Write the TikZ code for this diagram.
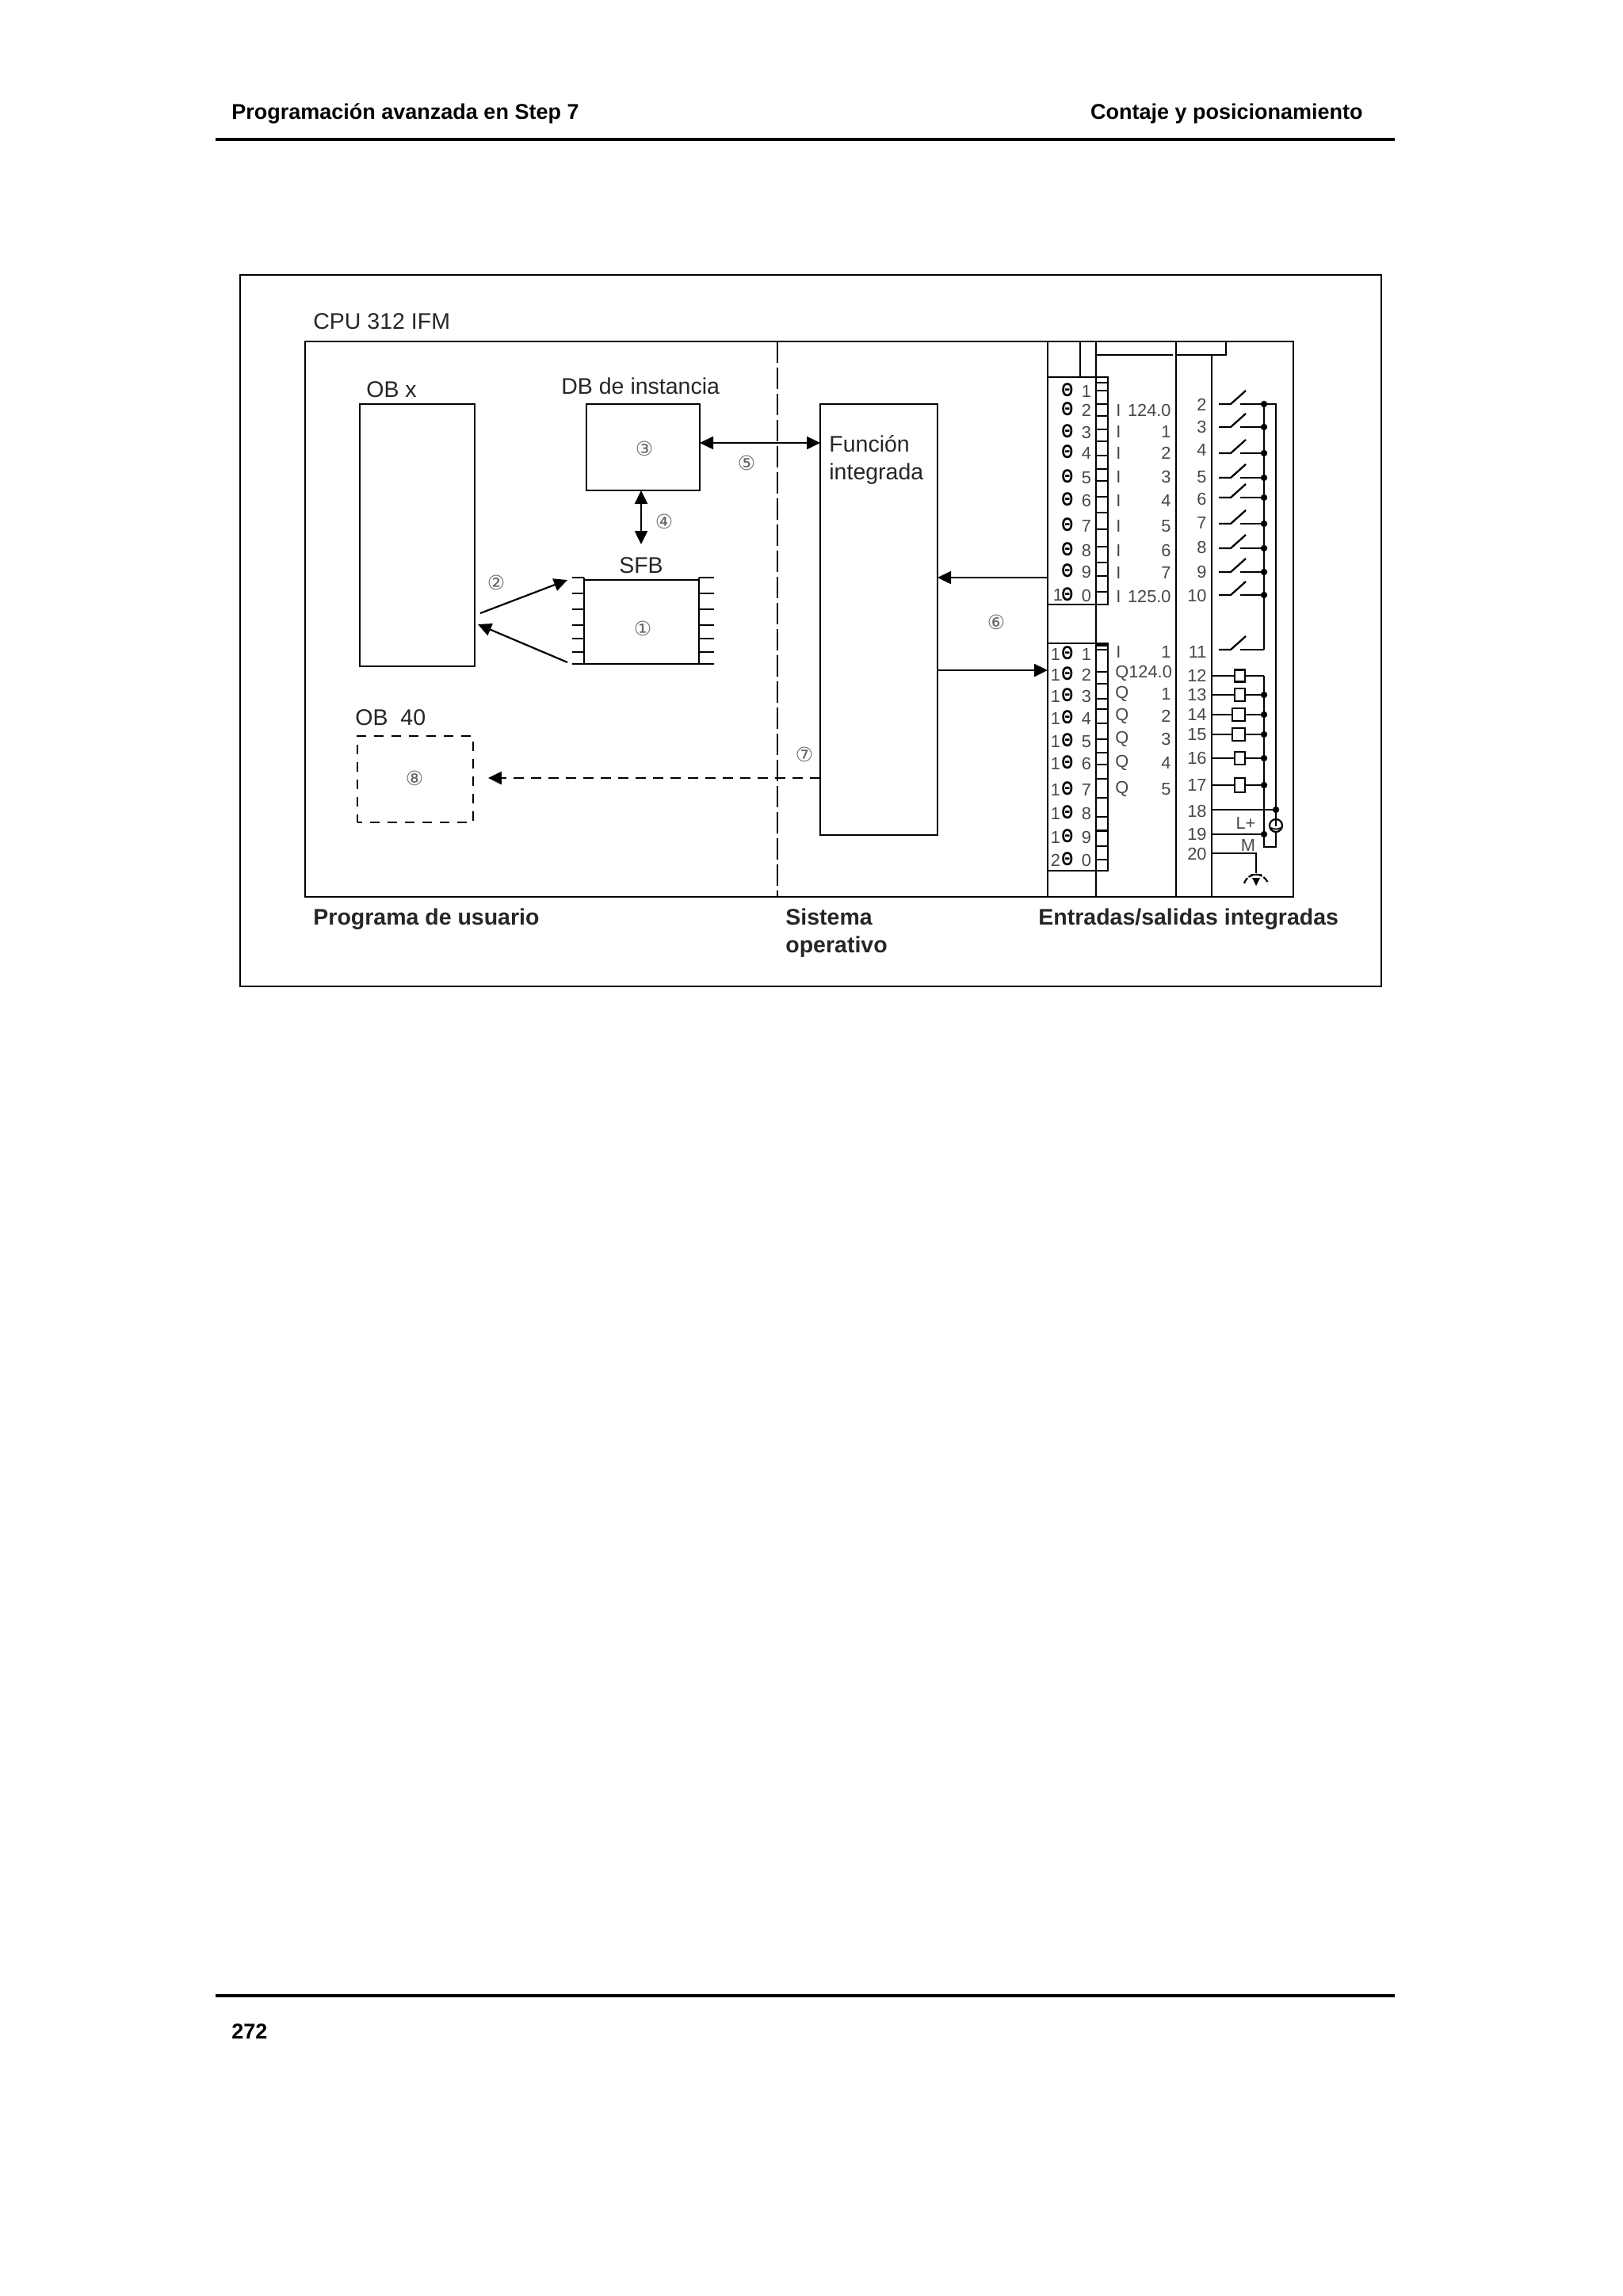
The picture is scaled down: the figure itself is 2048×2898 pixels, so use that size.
\documentclass[tikz,border=0pt]{standalone}
\usepackage{graphicx}
\usepackage{fontspec}
\setmainfont{Liberation Sans}
\newfontfamily\djv{DejaVu Sans}
\usetikzlibrary{arrows.meta,calc}
\newcommand{\fs}[1]{\fontsize{#1}{#1}\selectfont}
% box given by pixel corners
\newcommand{\bxnode}[6][]{%
  \pgfmathsetmacro{\bw}{(#5-#3)*0.5}\pgfmathsetmacro{\bh}{(#6-#4)*0.5}%
  \node[frameb,#1,minimum width=\bw pt,minimum height=\bh pt] (#2) at ({(#3+#5)/2},{(#4+#6)/2}) {};}
\tikzset{
  frameb/.style={draw=black,line width=1.25pt,fill=white,inner sep=0pt,outer sep=0pt},
  wire/.style={line width=1.15pt,draw=black},
  rule/.style={line width=2.1pt,draw=black},
  headtxt/.style={font=\bfseries\fs{13.5},anchor=base west,inner sep=0pt,text=black},
  lab/.style={font=\fs{14.25},anchor=base west,inner sep=0pt,text=black!85},
  blab/.style={font=\bfseries\fs{14.25},anchor=base west,inner sep=0pt,text=black!85},
  term/.style={font=\fs{10.9},inner sep=0pt,text=black!72},
  screw/.style={font=\bfseries\fs{12},inner sep=0pt,text=black},
  termr/.style={font=\fs{10.9},inner sep=0pt,text=black!72,anchor=east},
  terml/.style={font=\fs{10.9},inner sep=0pt,text=black!72,anchor=west},
  num/.style={font=\djv\fs{12.5},inner sep=0pt,text=black!60},
  both/.style={line width=1.25pt,{Triangle[length=8.5pt,width=8pt]}-{Triangle[length=8.5pt,width=8pt]}},
  single/.style={line width=1.25pt,-{Triangle[length=8.5pt,width=8pt]}},
  dotj/.style={circle,fill=black,inner sep=0pt,minimum size=4.2pt},
  shortdash/.style={dash pattern=on 6.5pt off 4.5pt},
  longdash/.style={dash pattern=on 13.5pt off 3pt},
}
\begin{document}
\begin{tikzpicture}[x=0.5pt,y=-0.5pt]
\useasboundingbox (0,0) rectangle (2048,2898);
\fill[white] (0,0) rectangle (2048,2898);
% header / footer
\node[headtxt] (hl) at (292,150) {Programación avanzada en Step 7};
\node[headtxt,anchor=base east] (hr) at (1720,150) {Contaje y posicionamiento};
\coordinate (r1a) at (272,176); \coordinate (r1b) at (1760,176);
\draw[rule] (r1a) -- (r1b);
\coordinate (r2a) at (272,2519); \coordinate (r2b) at (1760,2519);
\draw[rule] (r2a) -- (r2b);
\node[headtxt] (pg) at (292,2573) {272};
% frames
\bxnode{outer}{303}{347}{1743}{1245}
\bxnode{cpu}{385}{431}{1632}{1132}
\node[lab] (tcpu) at (395,415) {CPU 312 IFM};
% vertical separators
\coordinate (s1) at (981,431); \coordinate (s2) at (981,1132);
\draw[line width=1.1pt,longdash] (s1) -- (s2);
\coordinate (v1a) at (1322,431); \coordinate (v1b) at (1322,1132); \draw[wire,line width=1.25pt] (v1a) -- (v1b);
\coordinate (v2a) at (1363,431); \coordinate (v2b) at (1363,476); \draw[wire,line width=1.25pt] (v2a) -- (v2b);
\coordinate (v3a) at (1383,431); \coordinate (v3b) at (1383,1132); \draw[wire,line width=1.25pt] (v3a) -- (v3b);
\coordinate (v4a) at (1484,431); \coordinate (v4b) at (1484,1132); \draw[wire,line width=1.25pt] (v4a) -- (v4b);
\coordinate (v5a) at (1529,448); \coordinate (v5b) at (1529,1132); \draw[wire,line width=1.25pt] (v5a) -- (v5b);
\coordinate (h1a) at (1383,448); \coordinate (h1b) at (1480,448); \draw[wire,line width=1.25pt] (h1a) -- (h1b);
\coordinate (h2a) at (1484,448); \coordinate (h2b) at (1547,448); \coordinate (h2c) at (1547,431); \draw[wire,line width=1.25pt] (h2a) -- (h2b) -- (h2c);
% main boxes
\bxnode{obx}{454}{510}{599}{841}
\node[lab] (tobx) at (462,501) {OB x};
\bxnode{db}{740}{510}{883}{619}
\node[lab] (tdb) at (708,497) {DB de instancia};
\bxnode{sfb}{737}{732}{882}{838}
\node[lab,anchor=base] (tsfb) at (809,723) {SFB};
\bxnode{fun}{1035}{510}{1183}{1054}
\node[lab] (tf1) at (1046,570) {Función};
\node[lab] (tf2) at (1046,605) {integrada};
\bxnode[dash pattern=on 6pt off 5pt,dash phase=3pt,line width=1.35pt]{ob40}{451}{929}{597}{1038}
\node[lab] (tob40) at (448,915) {OB\ \ 40};
% SFB pins
\foreach \y [count=\i] in {729,749,769,789,806,823,838}{
  \coordinate (pl\i) at (722,\y); \coordinate (pr\i) at (901,\y);
  \draw[wire] (pl\i) -- (pl\i -| sfb.west);
  \draw[wire] (pr\i) -- (pr\i -| sfb.east);
}
\draw[wire] (sfb.north west) -- (sfb.west |- pl1);
\draw[wire] (sfb.north east) -- (sfb.east |- pr1);
% terminal blocks
\bxnode[fill=none]{tb1}{1322}{476}{1398}{763}
\bxnode[fill=none]{tb2}{1322}{812}{1398}{1099}
% connectors
\coordinate (c5) at ([yshift=2.75pt]db.east);
\draw[both] (c5) -- (c5 -| fun.west);
\coordinate (c4) at (809,687);
\draw[both] (db.south -| c4) -- (c4);
\coordinate (a2a) at (606,774); \coordinate (a2b) at (716,732);
\draw[single,line width=1.1pt] (a2a) -- (a2b);
\coordinate (a2c) at (716,836); \coordinate (a2d) at (603,788);
\draw[single,line width=1.1pt] (a2c) -- (a2d);
\coordinate (c7) at (1035,982); \coordinate (c7e) at (616,982);
\draw[single,shortdash,line width=1.35pt] (c7) -- (c7e);
\coordinate (c6a) at (1322,729); \coordinate (c6b) at (1183,846);
\draw[single] (c6a) -- (c6a -| fun.east);
\draw[single] (c6b) -- (c6b -| tb2.west);
% numbers
\node[num] (n1) at (811,793) {①};
\node[num] (n2) at (626,735) {②};
\node[num] (n3) at (813,566) {③};
\node[num] (n4) at (838,658) {④};
\node[num] (n5) at (942,584) {⑤};
\node[num] (n6) at (1257,785) {⑥};
\node[num] (n7) at (1015,952) {⑦};
\node[num] (n8) at (523,982) {⑧};
% ticks
\foreach \d in {190,218,270,315,365,410,465,515,560,620,680,745,810,870,920,980}{
  \pgfmathsetmacro{\yy}{420+\d/3}
  \coordinate (ta) at (1383,\yy); \draw[wire] (ta) -- (ta -| tb1.east);
}
\foreach \d in {60,145,190,245,285,340,400,450,495,550,620,692,745,803,855}{
  \pgfmathsetmacro{\yy}{800+\d/3}
  \coordinate (ta) at (1383,\yy); \draw[wire] (ta) -- (ta -| tb2.east);
}
\coordinate (tk) at (1383,813); \draw[wire,line width=2.5pt] (tk) -- (tk -| tb2.east);
% block 1 texts
\foreach \y/\d [count=\i] in {494/1,518/2,546/3,572/4,603/5,632/6,664/7,695/8,722/9}{
  \node[screw] (ta\i) at (1347,\y-2) {\scalebox{.78}[1]{Θ}};
  \node[term] (td\i) at (1371,\y) {\d};
}
\node[screw] (ta10) at (1347,750) {\scalebox{.78}[1]{Θ}};
\node[term] (tp10) at (1335,751) {1};
\node[term] (td10) at (1371,752) {0};
% block 2 texts
\foreach \y/\d [count=\i] in {826/1,852/2,879/3,907/4,936/5,964/6,997/7,1027/8,1057/9}{
  \node[term] (up\i) at (1332,\y) {1};
  \node[screw] (ua\i) at (1347,\y-2) {\scalebox{.78}[1]{Θ}};
  \node[term] (ud\i) at (1371,\y) {\d};
}
\node[term] (up10) at (1332,1086) {2};
\node[screw] (ua10) at (1347,1084) {\scalebox{.78}[1]{Θ}};
\node[term] (ud10) at (1371,1086) {0};
% addresses
\foreach \y/\t [count=\i] in {518/124.0,545/1,572/2,602/3,632/4,664/5,695/6,723/7,753/125.0}{
  \node[terml] (ai\i) at (1408,\y) {I};
  \node[termr] (an\i) at (1478,\y) {\t};
}
\node[terml] (ai10) at (1408,823) {I};
\node[termr] (an10) at (1478,823) {1};
\node[terml] (aq1) at (1407,850) {Q124.0};
\foreach \y/\t [count=\i from 2] in {876/1,904/2,933/3,963/4,996/5}{
  \node[terml] (aq\i) at (1407,\y) {Q};
  \node[termr] (aqn\i) at (1478,\y) {\t};
}
% right terminal numbers
\foreach \y/\t in {511/2,539/3,568/4,602/5,630/6,660/7,691/8,722/9,752/10,823/11,853/12,877/13,902/14,927/15,957/16,991/17,1024/18,1053/19,1078/20}{
  \node[termr] (rn\t) at (1523,\y) {\t};
}
% buses
\coordinate (b1a) at (1595,510); \coordinate (b1b) at (1595,820);
\coordinate (b2a) at (1610,510); \coordinate (b2b) at (1610,1069);
\coordinate (b3a) at (1595,853); \coordinate (b3b) at (1595,1069);
\draw[wire] (b1a) -- (b1b);
\draw[wire] (b1a) -- (b2a) -- (b2b) -- (b3b) -- (b3a);
% switches
\foreach \y/\dt [count=\i] in {510/1,539/1,572/1,603/1,628/1,661/1,692/1,722/1,751/1,820/0}{
  \coordinate (sa\i) at (1538,\y); \coordinate (sb\i) at (1553,\y);
  \coordinate (sc\i) at (1572,\y-17); \coordinate (sd\i) at (1565,\y); \coordinate (se\i) at (1595,\y);
  \draw[wire] (sa\i) -- (sb\i) -- (sc\i);
  \draw[wire] (sd\i) -- (se\i);
  \ifnum\dt=1 \node[dotj] (sj\i) at (se\i) {}; \fi
}
% coils
\foreach \y/\xl/\h/\dt [count=\i] in {853/1558/14/0,877/1558/15/1,902/1555/15/1,927/1555/15/1,957/1558/15/1,991/1558/17/1}{
  \coordinate (ca\i) at (1529,\y); \coordinate (cb\i) at (1595,\y);
  \draw[wire] (ca\i) -- (cb\i);
  \pgfmathsetmacro{\ya}{\y-\h/2-.5}\pgfmathsetmacro{\yb}{\y+\h/2+.5}
  \bxnode[line width=1.1pt]{coil\i}{\xl}{\ya}{1571}{\yb}
  \ifnum\dt=1 \node[dotj] (cj\i) at (cb\i) {}; \fi
}
% supply
\coordinate (p18) at (1529,1022); \coordinate (q18) at (1610,1022);
\draw[wire] (p18) -- (q18); \node[dotj] (j18) at (q18) {};
\coordinate (p19) at (1529,1053); \coordinate (q19) at (1595,1053);
\draw[wire] (p19) -- (q19); \node[dotj] (j19) at (q19) {};
\coordinate (p20) at (1529,1077); \coordinate (q20) at (1585,1077); \coordinate (g20) at (1585,1102);
\draw[wire] (p20) -- (q20) -- (g20);
\node[term] (lp) at (1572,1039) {L+};
\node[term] (lm) at (1575,1067) {M};
\node[draw=black,line width=1.1pt,fill=white,circle,minimum size=8pt,inner sep=0pt] (meter) at (1610,1042) {};
\draw[line width=.9pt] (1604,1045) .. controls (1608,1047) and (1612,1047) .. (1616,1045);
\draw[line width=.9pt] (1610,1034) -- (1610,1043);
% ground
\draw[line width=1.1pt,dash pattern=on 4pt off 1pt] (1570,1115) .. controls (1575,1100) and (1595,1100) .. (1600,1115);
\draw[line width=1.1pt] (1578,1104) -- (1592,1104);
\fill[black] (1580,1108) -- (1590,1108) -- (1585,1118) -- cycle;
% bottom labels
\node[blab] (bl1) at (395,1167) {Programa de usuario};
\node[blab] (bl2) at (991,1167) {Sistema};
\node[blab] (bl3) at (991,1202) {operativo};
\node[blab] (bl4) at (1310,1167) {Entradas/salidas integradas};
\end{tikzpicture}
\end{document}
